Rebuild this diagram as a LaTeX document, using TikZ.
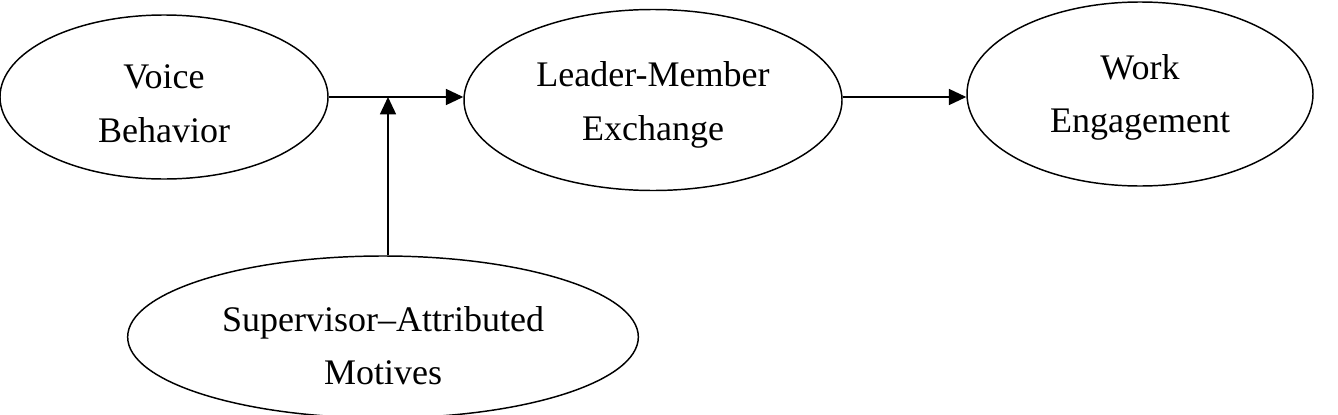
\documentclass[tikz,border=0pt]{standalone}
\usepackage{fontspec}
\setmainfont{Liberation Serif}
\usetikzlibrary{shapes.geometric,arrows.meta}
\newcommand{\lowerby}[1]{\rule{0pt}{#1}}
\begin{document}
\begin{tikzpicture}[x=0.75pt,y=-0.75pt,
  oval/.style={ellipse,draw,line width=1.1pt,inner sep=0pt,align=center,
    font=\fontsize{27}{40}\selectfont},
  conn/.style={line width=1.1pt,-{Triangle[length=13pt,width=12pt]}}]
\useasboundingbox (0,0) rectangle (1338,414);
\node[oval,minimum width=246pt,minimum height=123pt] (voice) at (164,97) {\lowerby{28pt}Voice\\Behavior};
\node[oval,minimum width=283.5pt,minimum height=135.75pt] (lmx) at (653,100) {\lowerby{26pt}Leader-Member\\Exchange};
\node[oval,minimum width=259.5pt,minimum height=138pt] (work) at (1140,94) {\lowerby{23.5pt}Work\\Engagement};
\node[oval,minimum width=383pt,minimum height=121.5pt] (sup) at (383,337) {\lowerby{32pt}Supervisor–Attributed\\Motives};
\coordinate (mid) at (388,97);
\draw[conn] (voice.east) -- (voice.east -| lmx.west);
\draw[conn] (lmx.east |- voice.east) -- (work.west |- voice.east);
\draw[conn] (sup.north -| mid) -- (mid);
\end{tikzpicture}
\end{document}
